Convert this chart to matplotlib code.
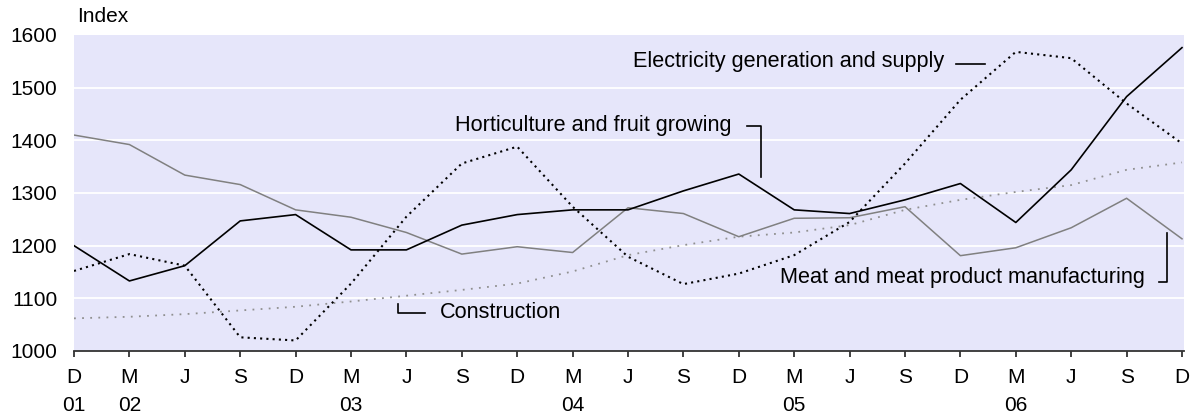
import matplotlib
matplotlib.use("Agg")
import matplotlib.pyplot as plt

plt.rcParams['font.family'] = ['Liberation Sans', 'DejaVu Sans']

# ---- data ----
months = ["D", "M", "J", "S", "D", "M", "J", "S", "D", "M", "J", "S",
          "D", "M", "J", "S", "D", "M", "J", "S", "D"]
years = {0: "01", 1: "02", 5: "03", 9: "04", 13: "05", 17: "06"}

horticulture = [1200, 1133, 1162, 1247, 1259, 1192, 1192, 1239, 1259, 1268, 1268,
                1304, 1336, 1268, 1261, 1287, 1318, 1244, 1344, 1483, 1576]
meat = [1410, 1392, 1334, 1316, 1268, 1254, 1225, 1184, 1198, 1187, 1272,
        1261, 1217, 1252, 1253, 1274, 1181, 1196, 1234, 1290, 1213]
electricity = [1152, 1184, 1162, 1026, 1020, 1128, 1255, 1356, 1388, 1274, 1179,
               1127, 1147, 1182, 1245, 1356, 1477, 1568, 1556, 1470, 1394]
construction = [1062, 1065, 1070, 1077, 1084, 1094, 1105, 1116, 1128, 1151, 1182,
                1201, 1217, 1225, 1239, 1268, 1287, 1302, 1315, 1344, 1358]

yticks = [1000, 1100, 1200, 1300, 1400, 1500, 1600]

W, H = 1193, 418
fig = plt.figure(figsize=(W / 100, H / 100), dpi=100)
ax = fig.add_axes([74 / W, (H - 351) / H, (1184 - 74) / W, (351 - 35) / H])
ax.set_facecolor('#E6E6FA')

x = list(range(len(months)))
ax.set_xlim(0, 20 * (1184 - 74) / (1182 - 74))
ax.set_ylim(1000, 1600)

for v in yticks[1:-1]:
    ax.axhline(v, color='white', lw=1.3, zorder=1)

ax.plot(x, construction, color='#909090', lw=1.3, linestyle=(0, (1, 3.5)), zorder=2)
ax.plot(x, meat, color='#808080', lw=1.1, zorder=3)
ax.plot(x, electricity, color='black', lw=1.5, linestyle=(0, (1, 2)), zorder=4)
ax.plot(x, horticulture, color='black', lw=1.2, zorder=5)

for s in ['top', 'right', 'left']:
    ax.spines[s].set_visible(False)
ax.spines['bottom'].set_color('#333333')
ax.spines['bottom'].set_linewidth(1.3)

fs = 15
fa = 15.6
ax.set_yticks(yticks)
ax.set_yticklabels([str(v) for v in yticks], fontsize=fs)
ax.tick_params(axis='y', length=0, pad=12)

ax.set_xticks(x)
ax.set_xticklabels([m + ("\n" + years[i] if i in years else "") for i, m in enumerate(months)],
                   fontsize=fs, linespacing=1.6)
ax.tick_params(axis='x', direction='out', length=4.5, width=1.3, color='#333333', pad=8)

fig.text(77 / W, 1 - 17 / H, "Index", fontsize=fs, ha='left', va='center')

# annotations in figure pixel positions (top-left origin)
def px(xp, yp):
    return xp / W, 1 - yp / H

def ftext(xp, yp, s, ha='left'):
    fig.text(*px(xp, yp), s, fontsize=fa, ha=ha, va='center')

def fline(xs, ys):
    fig.add_artist(plt.Line2D([xx / W for xx in xs], [1 - yy / H for yy in ys],
                              color='black', lw=1.2, transform=fig.transFigure))

ftext(633, 62, "Electricity generation and supply")
fline([956, 985], [64, 64])

ftext(455, 126, "Horticulture and fruit growing")
fline([747, 760.5, 760.5], [126, 126, 177])

ftext(440, 312, "Construction")
fline([397.5, 397.5, 425], [304, 313, 313])

ftext(780, 278, "Meat and meat product manufacturing")
fline([1159, 1166.5, 1166.5], [281.5, 281.5, 233])

fig.savefig("out.png", dpi=100)
